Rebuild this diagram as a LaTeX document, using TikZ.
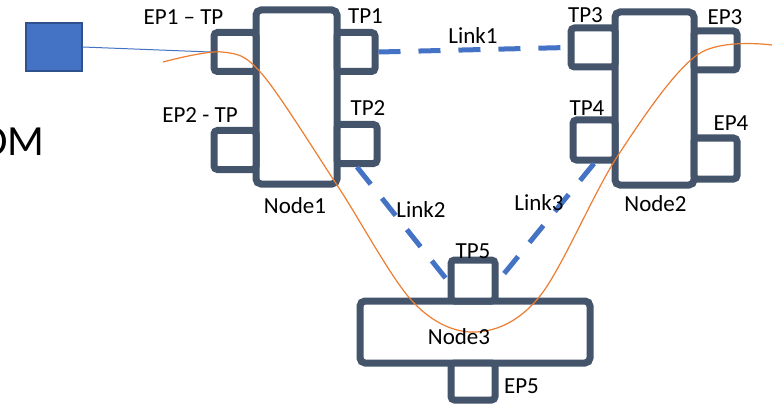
\documentclass[tikz,border=0pt]{standalone}
\usepackage{fontspec}
\setmainfont{Carlito}
\definecolor{NodeSlate}{HTML}{44546A}
\definecolor{LinkBlue}{HTML}{4472C4}
\definecolor{BoxEdge}{HTML}{2F528F}
\definecolor{PathOrange}{HTML}{ED7D31}
\begin{document}
\begin{tikzpicture}[x=1pt,y=-1pt,
  nodebox/.style={draw=NodeSlate,line width=7pt,fill=white,rounded corners=5pt,inner sep=0pt},
  portbox/.style={nodebox,rounded corners=3.5pt,minimum width=42pt,minimum height=39pt},
  linkline/.style={LinkBlue,line width=5pt,dash pattern=on 22pt off 18pt},
  lbl/.style={font=\fontsize{23}{27}\selectfont,inner sep=0pt,anchor=base}]
  \useasboundingbox (0,0) rectangle (772,404);
  % source box and its feed
  \node[draw=BoxEdge,line width=1.5pt,fill=LinkBlue,minimum width=56pt,minimum height=48pt,inner sep=0pt] (src) at (54,47) {};
  \node[font=\fontsize{43}{50}\selectfont,inner sep=0pt,anchor=base west] (om) at (-21,155) {OM};
  % nodes
  \node[nodebox,minimum width=81pt,minimum height=174pt] (node1) at (296.5,97) {};
  \node[nodebox,minimum width=79pt,minimum height=173pt] (node2) at (654.5,98.5) {};
  \node[nodebox,minimum width=230pt,minimum height=62pt] (node3) at (475,332) {};
  % ports
  \node[portbox] (ep1) at (235,52) {};
  \node[portbox] (ep2) at (235,150) {};
  \node[portbox,minimum width=38pt] (tp1) at (356,52) {};
  \node[portbox,minimum width=40pt] (tp2) at (357,144) {};
  \node[portbox,minimum width=44pt] (tp3) at (593,47.5) {};
  \node[portbox,minimum height=40pt] (tp4) at (594,140) {};
  \node[portbox,minimum width=43pt] (ep3) at (715.5,50.5) {};
  \node[portbox,minimum width=43pt,minimum height=41pt] (ep4) at (715.5,158.5) {};
  \node[portbox,minimum width=44pt,minimum height=41pt] (tp5) at (473,280.5) {};
  \node[portbox,minimum width=44pt,minimum height=37pt] (ep5) at (473,381.5) {};
  % links
  \draw[LinkBlue,line width=1pt] (src.east) -- (ep1.west);
  \draw[linkline] (tp1.east) -- (tp3.west);
  \draw[linkline] (tp2.south) -- (tp5.west);
  \draw[linkline] (tp4.south) -- (tp5.east);
  % path through the network
  \draw[PathOrange,line width=1.2pt] plot[smooth,tension=0.55] coordinates
    {(163,62) (222,52) (262,74) (337,185) (413,302) (476,332) (540,296)
     (617,157) (697,55) (772,45)};
  % labels
  \node[lbl] (lep1) at (183.5,25) {EP1 -- TP};
  \node[lbl] (lep2) at (200,122) {EP2 - TP};
  \node[lbl] (ltp1) at (365.5,24) {TP1};
  \node[lbl] (ltp2) at (368,116) {TP2};
  \node[lbl] (ltp3) at (585.5,23) {TP3};
  \node[lbl] (ltp4) at (587,115) {TP4};
  \node[lbl] (lep3) at (725,25) {EP3};
  \node[lbl] (lep4) at (731,131) {EP4};
  \node[lbl] (ltp5) at (473,258) {TP5};
  \node[lbl] (lep5) at (521.5,393) {EP5};
  \node[lbl] (lnode1) at (295,213) {Node1};
  \node[lbl] (lnode2) at (655.5,211) {Node2};
  \node[lbl] (lnode3) at (459,344) {Node3};
  \node[lbl] (llink1) at (473,44) {Link1};
  \node[lbl] (llink2) at (421,217) {Link2};
  \node[lbl] (llink3) at (539,210) {Link3};
\end{tikzpicture}
\end{document}
